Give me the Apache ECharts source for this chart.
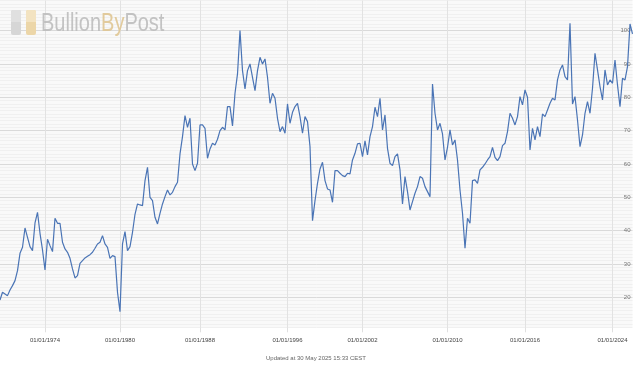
<!DOCTYPE html>
<html>
<head>
<meta charset="utf-8">
<script src="https://cdn.jsdelivr.net/npm/echarts@6/dist/echarts.min.js"></script>
<style>
html,body{margin:0;padding:0;background:#fff;}
#chart{width:640px;height:365px;}
</style>
</head>
<body>
<div id="chart"></div>
<script>
// Tick labels on the x axis and the category index where each sits
const tickLabels = ['01/01/1974','01/01/1980','01/01/1988','01/01/1996','01/01/2002','01/01/2010','01/01/2016','01/01/2024'];
const tickIndex = [18, 48, 80, 115, 145, 179, 210, 245];
const startDate = '01/06/1970';
const endDate = '30/05/2025';

// Gold/silver ratio (one value per category)
const ratio = [
  19.2, 21.5, 21, 20.5, 22.2, 23.5, 25, 28, 33.2, 35,
  40.8, 38, 35.2, 34, 42.3, 45.5, 39.2, 34.2, 28.2, 37.4,
  35.5, 33.7, 43.7, 42.2, 42.2, 36.5, 34.5, 33.5, 31.7, 28.5,
  25.8, 26.5, 30.2, 31, 31.8, 32.3, 32.8, 33.5, 34.7, 36,
  36.5, 38.5, 36, 35, 31.7, 32.5, 32.2, 21.5, 15.7, 36,
  39.7, 34, 35.2, 39.5, 44.9, 48, 47.7, 47.5, 55, 59,
  50, 49, 44, 42, 45.2, 48, 50.2, 52.2, 50.7, 51.5,
  53.2, 54.5, 63, 68.2, 74.5, 71, 73.7, 60, 58, 60.2,
  71.7, 71.7, 70.7, 61.7, 64.5, 66.2, 65.7, 67.4, 70, 71,
  70.2, 77.2, 77.2, 71.4, 81.2, 87, 100, 88, 82.5, 88,
  90, 86, 82, 88, 92, 90, 91.5, 86, 78.2, 81.2,
  79.7, 73.7, 69.7, 71.2, 69.2, 78, 72.2, 75.5, 77.2, 78.2,
  74.2, 69.2, 74.2, 72.7, 65.2, 43, 49, 54.2, 58.5, 60.5,
  55, 52.5, 52.2, 48.5, 58, 58, 57.2, 56.5, 56.2, 57.2,
  57, 61.2, 63.2, 66, 66.2, 62.2, 66.9, 62.7, 68.2, 71.2,
  77, 74.2, 79.7, 70.2, 74.7, 64.7, 60.2, 59.5, 62.2, 63,
  58.2, 48, 56.2, 51.7, 46.2, 48.7, 51.2, 53.2, 56.2, 55.7,
  53.2, 51.7, 50.2, 84, 75.2, 70.2, 72.2, 69, 61.2, 65,
  70.2, 65.7, 67.2, 61.2, 52.2, 45.2, 34.7, 43.7, 42.2, 55,
  55.2, 54.2, 58.2, 59, 60, 61.2, 62.2, 65, 62, 61,
  62.2, 65.5, 66.2, 69.7, 75.2, 73.7, 71.7, 74.2, 80.2, 77.7,
  82.2, 80, 64.2, 70.7, 67.2, 71.2, 68.2, 75, 74.2, 76.2,
  78.2, 79.7, 79.2, 85.2, 88.2, 89.7, 86.2, 85.2, 102.2, 78,
  80.2, 73.2, 65.2, 68.7, 75.2, 78.7, 75.2, 82.7, 93.2, 88.2,
  83.2, 79.2, 88.2, 83.7, 85.2, 84.2, 91.2, 83.7, 77.2, 85.7,
  85.2, 89.2, 102, 99
];

// Build date-string categories between the labelled anchor dates
function toYear(s){const p=s.split('/');return +p[2]+(+p[1]-1)/12+(+p[0]-1)/365;}
function fmt(y){const yr=Math.floor(y);const f=y-yr;const mo=Math.floor(f*12);const d=Math.floor((f*12-mo)*30)+1;
  const pad=n=>(n<10?'0':'')+n;return pad(Math.min(d,28))+'/'+pad(mo+1)+'/'+yr;}
const anchorIdx=[0].concat(tickIndex,[ratio.length-1]);
const anchorYear=[toYear(startDate)].concat(tickLabels.map(toYear),[toYear(endDate)]);
const categories=ratio.map((v,i)=>{
  const t=tickIndex.indexOf(i); if(t>=0) return tickLabels[t];
  if(i===ratio.length-1) return endDate;
  let k=0; while(k<anchorIdx.length-2 && i>anchorIdx[k+1]) k++;
  const y=anchorYear[k]+(anchorYear[k+1]-anchorYear[k])*(i-anchorIdx[k])/(anchorIdx[k+1]-anchorIdx[k]);
  return fmt(y);
});

const isTick=(idx)=>tickIndex.indexOf(idx)>=0;
const minorC='#f0f0f0', majorC='#dadada';
const splitColors=[minorC,minorC,minorC,minorC,minorC,minorC,minorC,minorC,minorC,majorC];

const chart=echarts.init(document.getElementById('chart'),null,{renderer:'canvas'});
chart.setOption({
  animation:false,
  backgroundColor:'#ffffff',
  grid:{left:0,top:0.6,width:632.5,height:326.7,show:true,backgroundColor:'#f9f9f9',borderWidth:0,containLabel:false},
  xAxis:{
    type:'category',data:categories,boundaryGap:false,
    axisLine:{show:false},
    axisTick:{show:true,interval:isTick,length:5,lineStyle:{color:'#e0e0e0'}},
    splitLine:{show:true,interval:isTick,lineStyle:{color:'#e2e2e2',width:1}},
    axisLabel:{interval:isTick,color:'#444',fontSize:6,fontFamily:'Liberation Sans, Arial, sans-serif',margin:10}
  },
  yAxis:{
    type:'value',position:'right',min:11,max:109,interval:1,
    axisLine:{show:false},axisTick:{show:false},
    splitLine:{show:true,lineStyle:{color:splitColors,width:1}},
    axisLabel:{inside:true,margin:2,color:'#777',fontSize:6,fontFamily:'Liberation Sans, Arial, sans-serif',
      padding:[0,0,5,0],
      formatter:v=>(v%10===0?String(v):'')}
  },
  series:[{
    type:'line',data:ratio,showSymbol:false,symbol:'none',
    lineStyle:{color:'#4a74b5',width:1.2},
    sampling:'none',z:3
  }],
  graphic:[
    {type:'rect',z:20,shape:{x:11,y:10,width:10,height:25,r:2},style:{fill:'#d6d6d6'}},
    {type:'rect',z:21,shape:{x:11,y:10,width:10,height:12,r:[2,2,0,0]},style:{fill:'#e0e0e0'}},
    {type:'rect',z:20,shape:{x:26,y:10,width:10,height:25,r:2},style:{fill:'#ecd6a8'}},
    {type:'rect',z:21,shape:{x:26,y:10,width:10,height:12,r:[2,2,0,0]},style:{fill:'#f3e3c1'}},
    {type:'text',x:41,y:24,scaleX:0.8,z:20,style:{
      text:'{g|Bullion}{y|By}{g|Post}',verticalAlign:'middle',
      rich:{
        g:{fill:'#bdbdbd',fontSize:25,fontFamily:'Liberation Sans, Arial, sans-serif'},
        y:{fill:'#dfc592',fontSize:25,fontFamily:'Liberation Sans, Arial, sans-serif'}
      },opacity:0.9}},
    {type:'text',x:316,y:358,z:20,style:{text:'Updated at 30 May 2025 15:33 CEST',fill:'#666',fontSize:6,
      fontFamily:'Liberation Sans, Arial, sans-serif',align:'center',verticalAlign:'middle'}}
  ]
});
</script>
</body>
</html>
